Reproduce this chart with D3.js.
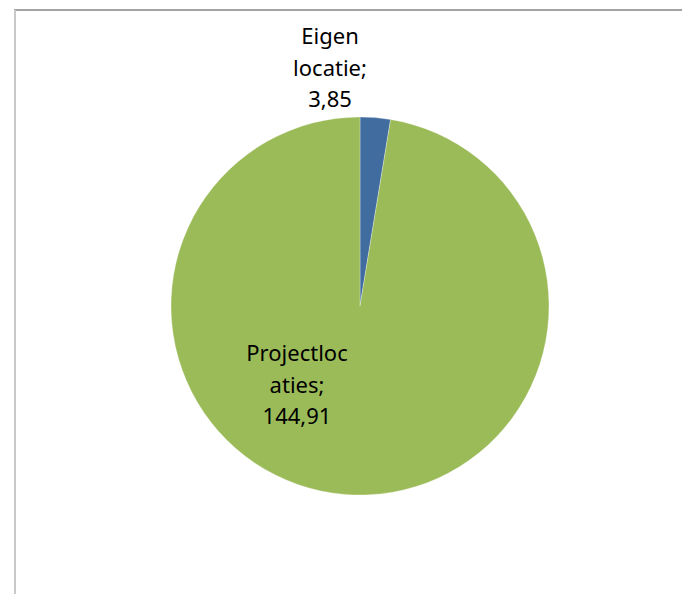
<!DOCTYPE html>
<html>
<head>
<meta charset="utf-8">
<script src="https://cdn.jsdelivr.net/npm/d3@7"></script>
<style>
  body { margin: 0; background: #fff; }
  svg { display: block; }
  .lbl { font-family: "Noto Sans", "Open Sans", sans-serif; font-size: 22px; fill: #000; }
</style>
</head>
<body>
<div id="chart"></div>
<script>
var categories = ["Eigen locatie", "Projectlocaties"];
var values = [3.85, 144.91];
var colors = ["#416c9f", "#9bbb59"];
// label lines as Excel wraps them
var labelLines = [["Eigen", "locatie;", "3,85"], ["Projectloc", "aties;", "144,91"]];

var width = 682, height = 594;
var cx = 360, cy = 306, radius = 189;

var svg = d3.select("#chart").append("svg")
    .attr("width", width)
    .attr("height", height);

// chart area frame (only top and left visible)
svg.append("line")
    .attr("x1", 14).attr("y1", 10)
    .attr("x2", width).attr("y2", 10)
    .attr("stroke", "#858585")
    .attr("stroke-width", 1.5);

svg.append("line")
    .attr("x1", 15).attr("y1", 10)
    .attr("x2", 15).attr("y2", height)
    .attr("stroke", "#c9c9c9")
    .attr("stroke-width", 2);

var data = categories.map(function(c, i) {
  return {name: c, value: values[i], color: colors[i], lines: labelLines[i]};
});

var pie = d3.pie()
    .sort(null)
    .value(function(d) { return d.value; });

var arc = d3.arc()
    .innerRadius(0)
    .outerRadius(radius);

var g = svg.append("g")
    .attr("transform", "translate(" + cx + "," + cy + ")");

var arcs = pie(data);

g.selectAll("path")
    .data(arcs)
    .enter()
    .append("path")
    .attr("d", arc)
    .attr("fill", function(d) { return d.data.color; })
    .attr("stroke", "#ffffff")
    .attr("stroke-opacity", 0.5)
    .attr("stroke-width", 0.6);

// label anchor points relative to pie centre
var labelPos = [[-30, -262], [-63, 55]];
var lineHeight = 31.5;

g.selectAll("text.lbl")
    .data(arcs)
    .enter()
    .append("text")
    .attr("class", "lbl")
    .attr("text-anchor", "middle")
    .attr("transform", function(d, i) {
      return "translate(" + labelPos[i][0] + "," + labelPos[i][1] + ")";
    })
    .each(function(d) {
      var t = d3.select(this);
      d.data.lines.forEach(function(l, j) {
        t.append("tspan")
          .attr("x", 0)
          .attr("y", j * lineHeight)
          .text(l);
      });
    });
</script>
</body>
</html>
